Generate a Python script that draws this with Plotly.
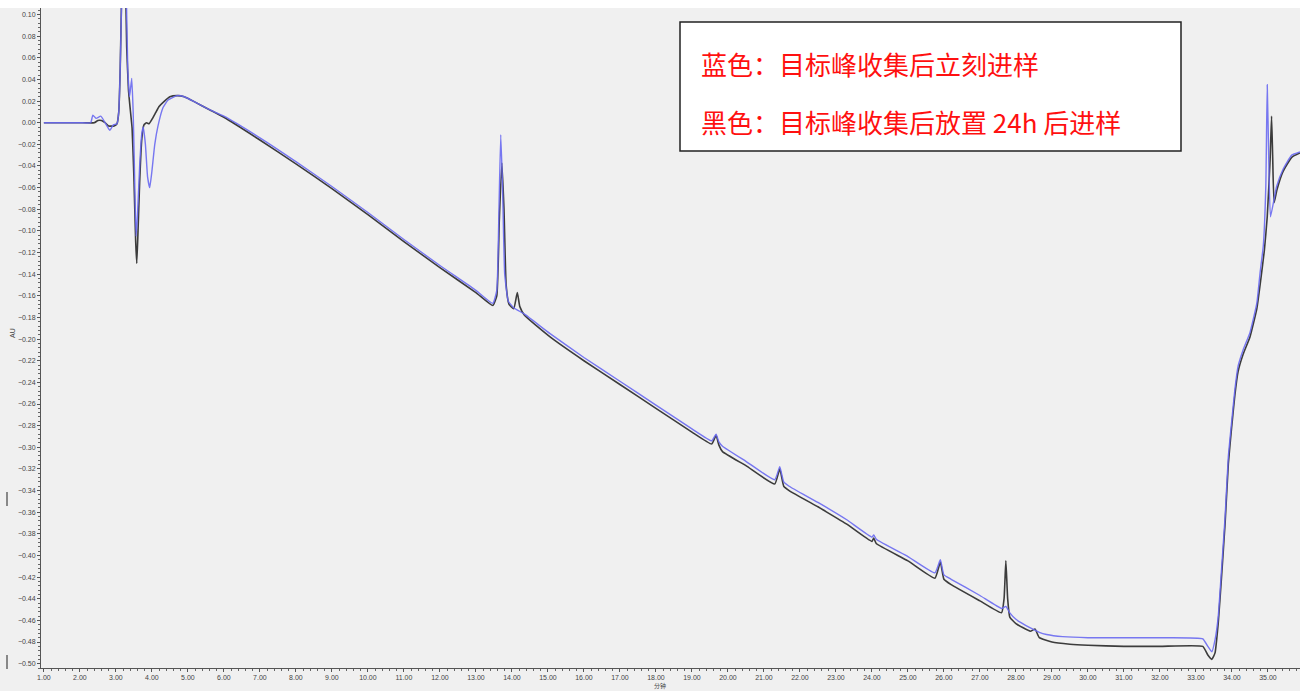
import plotly.graph_objects as go

# ---- data (retention time in minutes, absorbance AU) ----
black_t = [1.0, 2.0, 2.40, 2.50, 2.60, 2.70, 2.80, 2.95, 3.03, 3.08, 3.12, 3.16, 3.20, 3.23, 3.26,
           3.30, 3.35, 3.40, 3.45, 3.50, 3.55, 3.58, 3.61, 3.66, 3.72, 3.78, 3.85, 3.92, 4.00, 4.10,
           4.20, 4.35, 4.50, 4.70, 4.90, 5.20, 5.60, 6.00, 7.00, 8.00, 9.00, 10.00, 11.00, 12.00,
           13.00, 13.47, 13.58, 13.65, 13.72, 13.78, 13.84, 13.92, 14.05, 14.15, 14.22, 14.35, 15.06,
           16.0, 17.0, 18.0, 19.0, 19.55, 19.67, 19.75, 19.85, 20.5, 21.3, 21.44, 21.55, 21.7, 22.5,
           22.65, 23.3, 24.0, 24.05, 24.12, 25.0, 25.75, 25.9, 26.0, 26.2, 27.0, 27.6, 27.67, 27.72,
           27.77, 27.83, 28.0, 28.4, 28.53, 28.65, 29.0, 29.5, 30.0, 31.0, 32.0, 33.19, 33.33, 33.44,
           33.53, 33.62, 33.71, 33.81, 33.90, 33.99, 34.08, 34.17, 34.31, 34.50, 34.69, 34.80, 34.90,
           34.98, 35.06, 35.10, 35.13, 35.17, 35.25, 35.42, 35.66, 35.89]
black_v = [0.000, 0.000, 0.000, 0.002, 0.002, 0.000, -0.003, -0.003, -0.001, 0.010, 0.050, 0.120,
           0.200, 0.230, 0.150, 0.070, 0.030, 0.012, -0.005, -0.050, -0.110, -0.130, -0.105, -0.055,
           -0.015, -0.002, 0.000, -0.001, 0.003, 0.009, 0.015, 0.020, 0.024, 0.025, 0.024, 0.019,
           0.012, 0.005, -0.016, -0.038, -0.061, -0.085, -0.110, -0.134, -0.157, -0.169, -0.160,
           -0.090, -0.037, -0.080, -0.150, -0.168, -0.172, -0.157, -0.170, -0.178, -0.198, -0.220,
           -0.242, -0.264, -0.286, -0.297, -0.289, -0.298, -0.304, -0.317, -0.334, -0.320, -0.336,
           -0.340, -0.355, -0.358, -0.371, -0.387, -0.384, -0.389, -0.405, -0.421, -0.406, -0.422,
           -0.427, -0.442, -0.453, -0.440, -0.405, -0.440, -0.457, -0.463, -0.470, -0.468, -0.476,
           -0.480, -0.482, -0.483, -0.484, -0.484, -0.484, -0.492, -0.496, -0.490, -0.462, -0.420,
           -0.370, -0.315, -0.282, -0.252, -0.230, -0.214, -0.198, -0.172, -0.145, -0.118, -0.087,
           -0.034, 0.006, -0.030, -0.074, -0.062, -0.045, -0.032, -0.028]

blue_t = [1.0, 2.0, 2.30, 2.36, 2.45, 2.58, 2.70, 2.83, 2.93, 3.03, 3.08, 3.12, 3.17, 3.21, 3.25,
          3.28, 3.33, 3.38, 3.44, 3.48, 3.52, 3.56, 3.60, 3.66, 3.72, 3.76, 3.82, 3.88, 3.94, 4.00,
          4.08, 4.17, 4.31, 4.45, 4.70, 4.90, 5.20, 5.60, 6.00, 7.00, 8.00, 9.00, 10.00, 11.00,
          12.00, 13.00, 13.47, 13.58, 13.64, 13.69, 13.74, 13.80, 13.90, 14.05, 14.35, 15.06, 16.0,
          17.0, 18.0, 19.0, 19.55, 19.67, 19.75, 19.85, 20.5, 21.3, 21.44, 21.55, 21.7, 22.5, 23.3,
          24.0, 24.05, 24.12, 25.0, 25.75, 25.9, 26.0, 26.2, 27.0, 27.6, 27.72, 27.83, 28.0, 28.4,
          28.53, 28.65, 28.85, 29.3, 30.0, 31.0, 32.0, 33.19, 33.33, 33.44, 33.53, 33.62, 33.71,
          33.81, 33.90, 33.99, 34.08, 34.17, 34.31, 34.50, 34.69, 34.78, 34.87, 34.94, 34.98, 35.02,
          35.07, 35.24, 35.42, 35.66, 35.89]
blue_v = [0.000, 0.000, 0.000, 0.007, 0.004, 0.006, 0.000, -0.007, -0.002, -0.001, 0.010, 0.050,
          0.130, 0.200, 0.220, 0.140, 0.050, 0.024, 0.041, 0.010, -0.050, -0.105, -0.085, -0.040,
          -0.010, -0.004, -0.020, -0.050, -0.060, -0.045, -0.020, -0.003, 0.014, 0.021, 0.025,
          0.024, 0.019, 0.012, 0.006, -0.014, -0.036, -0.059, -0.083, -0.108, -0.132, -0.155,
          -0.167, -0.155, -0.080, -0.011, -0.060, -0.140, -0.165, -0.171, -0.177, -0.195, -0.217,
          -0.239, -0.261, -0.283, -0.294, -0.288, -0.295, -0.299, -0.313, -0.330, -0.318, -0.332,
          -0.336, -0.351, -0.367, -0.383, -0.381, -0.385, -0.401, -0.416, -0.404, -0.418, -0.422,
          -0.437, -0.449, -0.447, -0.453, -0.459, -0.467, -0.469, -0.471, -0.473, -0.475, -0.476,
          -0.476, -0.476, -0.477, -0.484, -0.489, -0.478, -0.456, -0.413, -0.364, -0.308, -0.277,
          -0.247, -0.225, -0.210, -0.194, -0.167, -0.139, -0.114, -0.059, 0.035, -0.030, -0.087,
          -0.059, -0.043, -0.030, -0.027]

legend_lines = ["蓝色：目标峰收集后立刻进样", "黑色：目标峰收集后放置 24h 后进样"]
x_title = "分钟"
y_title = "AU"

fig = go.Figure()
fig.add_trace(go.Scatter(x=black_t, y=black_v, mode="lines",
                         line=dict(color="#3c3c3c", width=1.6, shape="spline", smoothing=0.4),
                         showlegend=False))
fig.add_trace(go.Scatter(x=blue_t, y=blue_v, mode="lines",
                         line=dict(color="#6a6af2", width=1.4, shape="spline", smoothing=0.4),
                         opacity=0.9, showlegend=False))

W, H = 1300, 691
L, R, T, B = 41, 0, 8, 23
pw, ph = W - L - R, H - T - B


def px(x):
    return (x - L) / pw


def py(y):
    return (H - B - y) / ph


tickfont = dict(family="Liberation Sans, Arial", size=7, color="#444")
fig.update_layout(
    width=W, height=H, autosize=False,
    margin=dict(l=L, r=R, t=T, b=B, pad=0),
    paper_bgcolor="#f0f0f0", plot_bgcolor="#f0f0f0",
    xaxis=dict(range=[0.92, 35.89], tick0=1, dtick=1, tickformat=".2f",
               showgrid=False, zeroline=False, showline=True, linecolor="#555", linewidth=1,
               ticks="outside", ticklen=3, tickcolor="#555", tickfont=tickfont,
               minor=dict(dtick=0.2, tick0=1, ticks="outside", ticklen=2, tickcolor="#666",
                          showgrid=False)),
    yaxis=dict(range=[-0.504, 0.106], tick0=0, dtick=0.02, tickformat=".2f",
               showgrid=False, zeroline=False, showline=True, linecolor="#555", linewidth=1,
               ticks="outside", ticklen=3, tickcolor="#555", tickfont=tickfont,
               minor=dict(dtick=0.004, tick0=0, ticks="outside", ticklen=2, tickcolor="#666",
                          showgrid=False)),
    shapes=[
        dict(type="rect", xref="paper", yref="paper", x0=px(0), x1=px(W), y0=1.0, y1=py(0),
             fillcolor="white", line=dict(width=0), layer="below"),
        dict(type="rect", xref="paper", yref="paper", x0=px(680), x1=px(1181), y0=py(151), y1=py(22),
             fillcolor="white", line=dict(color="#222", width=1.5), layer="above"),
        dict(type="line", xref="paper", yref="paper", x0=px(7), x1=px(7), y0=py(492), y1=py(506),
             line=dict(color="#666", width=1.5)),
        dict(type="line", xref="paper", yref="paper", x0=px(7), x1=px(7), y0=py(655), y1=py(669),
             line=dict(color="#666", width=1.5)),
    ],
    annotations=[
        dict(text=legend_lines[0], xref="paper", yref="paper", x=px(699), y=py(63),
             xanchor="left", yanchor="middle", showarrow=False,
             font=dict(family="Noto Sans CJK SC", size=26, color="#ff1010")),
        dict(text=legend_lines[1], xref="paper", yref="paper", x=px(699), y=py(121),
             xanchor="left", yanchor="middle", showarrow=False,
             font=dict(family="Noto Sans CJK SC", size=26, color="#ff1010")),
        dict(text=y_title, xref="paper", yref="paper", x=px(12), y=py(333), textangle=-90,
             xanchor="center", yanchor="middle", showarrow=False,
             font=dict(family="Liberation Sans, Arial", size=7, color="#444")),
        dict(text=x_title, xref="paper", yref="paper", x=px(660), y=py(691),
             xanchor="center", yanchor="bottom", showarrow=False, borderpad=0,
             font=dict(family="Noto Sans CJK SC", size=6, color="#444")),
    ],
)

fig.write_html("out.html")
